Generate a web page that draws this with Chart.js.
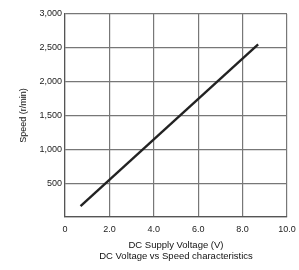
<!DOCTYPE html>
<html>
<head>
<meta charset="utf-8">
<script src="https://cdn.jsdelivr.net/npm/chart.js@4"></script>
<style>
html,body{margin:0;padding:0;background:#fff;}
#c{display:block;}
</style>
</head>
<body>
<canvas id="c" width="299" height="270"></canvas>
<script>
const voltage = [0.7, 8.7];
const speed = [160, 2550];
const xTicks = [0, 2, 4, 6, 8, 10];
const yTicks = [0, 500, 1000, 1500, 2000, 2500, 3000];
const xTitle = ["DC Supply Voltage (V)", "DC Voltage vs Speed characteristics"];
const yTitle = "Speed (r/min)";

const pts = voltage.map((v, i) => ({x: v, y: speed[i]}));
const font = {family: "'Liberation Sans', Arial, sans-serif", size: 9};

new Chart(document.getElementById('c'), {
  type: 'scatter',
  data: {datasets: [{
    data: pts, showLine: true, borderColor: '#222', borderWidth: 2.4,
    pointRadius: 0, fill: false
  }]},
  options: {
    responsive: false, animation: false,
    layout: {padding: {top: 14, right: 12, left: 0, bottom: 0}},
    plugins: {legend: {display: false}, tooltip: {enabled: false}},
    scales: {
      x: {
        type: 'linear', min: 0, max: 10,
        afterBuildTicks: s => { s.ticks = xTicks.map(v => ({value: v})); },
        ticks: {font: font, color: '#222', padding: 7, maxRotation: 0,
          callback: v => v === 0 ? '0' : v.toFixed(1)},
        grid: {color: '#777', lineWidth: 1.2, drawTicks: false},
        border: {color: '#555', width: 1.2},
        title: {display: true, text: xTitle, font: {family: font.family, size: 9.5}, color: '#111', padding: {top: 4, bottom: 8}},
        afterFit: s => { s.height = 53; s.paddingLeft = 0; s.paddingRight = 0; }
      },
      y: {
        type: 'linear', min: 0, max: 3000,
        afterBuildTicks: s => { s.ticks = yTicks.map(v => ({value: v})); },
        ticks: {font: font, color: '#222', padding: 3,
          callback: v => v === 0 ? '' : v.toLocaleString('en-US')},
        grid: {color: '#777', lineWidth: 1.2, drawTicks: false},
        border: {color: '#555', width: 1.2},
        title: {display: true, text: yTitle, font: font, color: '#111', padding: {top: 18, bottom: 4}},
        afterFit: s => { s.width = 65; s.paddingTop = 0; s.paddingBottom = 0; }
      }
    }
  }
});
</script>
</body>
</html>
